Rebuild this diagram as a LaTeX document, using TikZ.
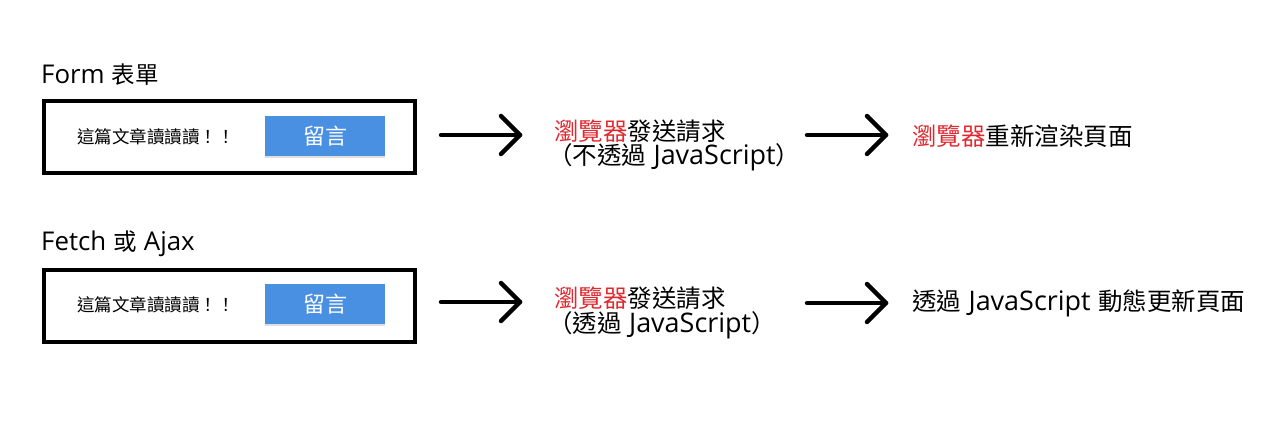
\documentclass[tikz,border=0pt]{standalone}
\usepackage{fontspec}
\setmainfont{Noto Sans CJK TC}
\newfontfamily\lat[Scale=1.1]{Open Sans}
\usetikzlibrary{shadows}
\definecolor{btnblue}{HTML}{4A90E2}
\definecolor{brred}{HTML}{E0282E}
\tikzset{
  heading/.style={anchor=west, inner sep=0pt, font=\fontsize{23.5}{26}\selectfont},
  formbox/.style={draw=black, line width=4pt, minimum width=371pt, minimum height=72pt, anchor=north west, inner sep=0pt},
  btn/.style={fill=btnblue, minimum width=120pt, minimum height=40pt, inner sep=0pt, anchor=north west, text=white, font=\fontsize{22}{24}\selectfont, drop shadow={shadow xshift=0pt, shadow yshift=-2pt, opacity=0.25}},
  msg/.style={anchor=west, inner sep=0pt, font=\fontsize{17.5}{20}\selectfont},
  desc/.style={anchor=west, inner sep=0pt, font=\fontsize{24.5}{27}\selectfont},
  arr/.style={line width=4.5pt, line cap=round, line join=round},
}
\newcommand{\brw}[1]{\textcolor{brred}{#1}}
\newcommand{\gap}{\hspace{0.3em}}
\begin{document}
\begin{tikzpicture}[x=1pt,y=-1pt]
\useasboundingbox (0,0) rectangle (1280,435);
% Row 1
\node[heading] (h1) at (41,75) {{\lat Form}\gap 表單};
\node[formbox] (box1) at (42,99) {};
\node[msg] (m1) at (77,137) {這篇文章讀讀讀！！};
\node[btn] (b1) at (265,116) {留言};
\coordinate (a1s) at (441,135);
\coordinate (a1e) at (520,135);
\draw[arr] (a1s) -- (a1e);
\draw[arr] ([shift={(-19,-19)}]a1e) -- (a1e) -- ([shift={(-19,19)}]a1e);
\node[desc] (t1a) at (554,131) {\brw{瀏覽器}發送請求};
\node[desc] (t1b) at (548,157) {（不透過\gap{\lat JavaScript}）};
\coordinate (a2s) at (807,135);
\coordinate (a2e) at (886,135);
\draw[arr] (a2s) -- (a2e);
\draw[arr] ([shift={(-19,-19)}]a2e) -- (a2e) -- ([shift={(-19,19)}]a2e);
\node[desc] (t1c) at (912,136) {\brw{瀏覽器}重新渲染頁面};
% Row 2
\node[heading] (h2) at (41,244) {{\lat Fetch}\gap 或\gap{\lat Ajax}};
\node[formbox] (box2) at (42,268) {};
\node[msg] (m2) at (77,305) {這篇文章讀讀讀！！};
\node[btn] (b2) at (265,284) {留言};
\coordinate (a3s) at (441,302);
\coordinate (a3e) at (520,302);
\draw[arr] (a3s) -- (a3e);
\draw[arr] ([shift={(-19,-19)}]a3e) -- (a3e) -- ([shift={(-19,19)}]a3e);
\node[desc] (t2a) at (554,298) {\brw{瀏覽器}發送請求};
\node[desc] (t2b) at (548,325) {（透過\gap{\lat JavaScript}）};
\coordinate (a4s) at (807,303);
\coordinate (a4e) at (886,303);
\draw[arr] (a4s) -- (a4e);
\draw[arr] ([shift={(-19,-19)}]a4e) -- (a4e) -- ([shift={(-19,19)}]a4e);
\node[desc] (t2c) at (912,303) {透過\gap{\lat JavaScript}\gap 動態更新頁面};
\end{tikzpicture}
\end{document}
